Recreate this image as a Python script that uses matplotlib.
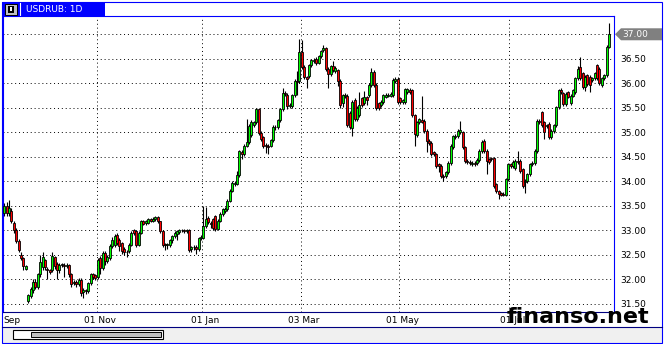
import numpy as np
import matplotlib.pyplot as plt
from matplotlib.patches import Rectangle, Polygon
from matplotlib.transforms import ScaledTranslation

# daily USDRUB candles
opens = [
    33.35, 33.50, 33.35, 33.40, 33.15, 33.00, 32.78, 32.50, 32.44, 32.22,
    31.56, 31.65, 31.78, 31.95, 31.85, 32.10, 32.25, 32.40, 32.22, 32.18,
    32.20, 32.45, 32.32, 32.18, 32.30, 32.30, 32.28, 32.30, 32.10, 31.92,
    31.95, 31.90, 31.99, 31.75, 31.78, 31.76, 31.92, 32.10, 32.08, 32.05,
    32.44, 32.24, 32.54, 32.37, 32.44, 32.68, 32.70, 32.91, 32.80, 32.74,
    32.62, 32.56, 32.57, 32.71, 33.00, 32.98, 32.71, 32.95, 33.18, 33.15,
    33.15, 33.23, 33.20, 33.24, 33.27, 33.18, 32.98, 32.72, 32.70, 32.70,
    32.80, 32.88, 32.92, 32.97, 33.00, 33.00, 32.99, 33.00, 32.62, 32.65,
    32.66, 32.62, 32.84, 32.85, 33.08, 33.26, 33.15, 33.23, 33.29, 33.03,
    33.20, 33.33, 33.40, 33.43, 33.60, 33.81, 33.95, 33.95, 34.12, 34.60,
    34.56, 34.73, 34.80, 34.94, 35.14, 35.20, 35.47, 34.99, 34.90, 34.75,
    34.72, 34.73, 34.84, 35.11, 35.11, 35.25, 35.47, 35.80, 35.77, 35.53,
    35.53, 35.76, 36.05, 36.05, 36.63, 36.34, 36.12, 36.14, 36.37, 36.45,
    36.50, 36.42, 36.55, 36.68, 36.72, 36.30, 36.18, 36.36, 36.25, 36.27,
    36.05, 35.59, 35.74, 35.75, 35.40, 35.09, 35.66, 35.28, 35.35, 35.69,
    35.59, 35.71, 35.76, 35.97, 36.24, 35.97, 35.59, 35.55, 35.62, 35.73,
    35.75, 35.75, 35.76, 36.05, 36.09, 35.69, 35.62, 35.62, 35.83, 35.86,
    35.86, 35.35, 34.95, 35.20, 35.26, 35.24, 35.03, 34.83, 34.79, 34.59,
    34.55, 34.35, 34.32, 34.11, 34.10, 34.18, 34.38, 34.69, 34.90, 34.92,
    35.00, 35.00, 34.69, 34.42, 34.40, 34.36, 34.38, 34.38, 34.44, 34.62,
    34.83, 34.62, 34.45, 34.47, 34.47, 33.94, 33.80, 33.76, 33.75, 33.73,
    34.04, 34.35, 34.32, 34.28, 34.42, 34.42, 34.25, 33.98, 34.01, 34.14,
    34.35, 34.38, 34.62, 35.24, 35.41, 35.20, 35.12, 35.17, 34.90, 35.03,
    35.14, 35.51, 35.86, 35.80, 35.58, 35.82, 35.60, 35.75, 35.82, 36.10,
    36.34, 36.20, 35.92, 36.16, 36.13, 36.06, 36.10, 36.37, 36.30, 35.96,
    36.10, 36.16, 36.75]

closes = [
    33.50, 33.35, 33.45, 33.20, 33.00, 32.78, 32.60, 32.44, 32.27, 32.27,
    31.68, 31.80, 31.95, 31.85, 32.10, 32.35, 32.45, 32.25, 32.18, 32.15,
    32.47, 32.27, 32.20, 32.30, 32.30, 32.28, 32.30, 32.10, 31.90, 31.95,
    31.90, 31.99, 31.72, 31.78, 31.76, 31.92, 32.10, 32.05, 32.03, 32.40,
    32.24, 32.54, 32.37, 32.45, 32.68, 32.81, 32.88, 32.74, 32.68, 32.57,
    32.55, 32.55, 32.71, 32.95, 32.95, 32.71, 32.95, 33.18, 33.13, 33.18,
    33.23, 33.20, 33.24, 33.27, 33.18, 32.98, 32.71, 32.69, 32.72, 32.80,
    32.88, 32.95, 32.98, 33.00, 33.00, 32.99, 33.00, 32.60, 32.65, 32.66,
    32.62, 32.84, 32.87, 33.08, 33.23, 33.16, 33.12, 33.05, 33.03, 33.20,
    33.33, 33.43, 33.43, 33.60, 33.81, 33.97, 33.97, 34.12, 34.61, 34.55,
    34.73, 34.80, 35.13, 35.21, 35.20, 35.47, 34.99, 34.87, 34.73, 34.72,
    34.70, 34.84, 35.11, 35.10, 35.25, 35.47, 35.80, 35.78, 35.53, 35.55,
    35.76, 36.05, 36.03, 36.63, 36.34, 36.12, 36.08, 36.37, 36.47, 36.48,
    36.42, 36.55, 36.65, 36.72, 36.30, 36.18, 36.35, 36.28, 36.32, 36.05,
    35.55, 35.76, 35.76, 35.14, 35.10, 35.62, 35.28, 35.50, 35.55, 35.55,
    35.73, 35.66, 35.97, 36.24, 35.97, 35.49, 35.49, 35.62, 35.76, 35.77,
    35.77, 35.79, 36.07, 36.09, 35.62, 35.62, 35.65, 35.88, 35.88, 35.83,
    35.35, 34.97, 35.20, 35.27, 35.22, 35.03, 34.83, 34.79, 34.55, 34.55,
    34.32, 34.32, 34.11, 34.08, 34.18, 34.38, 34.73, 34.92, 34.92, 35.03,
    35.05, 34.69, 34.42, 34.40, 34.37, 34.38, 34.36, 34.44, 34.62, 34.81,
    34.62, 34.42, 34.40, 34.45, 33.90, 33.80, 33.75, 33.73, 33.73, 34.04,
    34.35, 34.32, 34.40, 34.42, 34.40, 34.21, 33.90, 34.01, 34.14, 34.35,
    34.38, 34.62, 35.24, 35.21, 35.14, 35.00, 35.14, 34.90, 35.03, 35.14,
    35.51, 35.86, 35.82, 35.58, 35.79, 35.73, 35.75, 35.86, 36.10, 36.30,
    36.10, 35.92, 36.13, 35.99, 35.96, 36.10, 36.20, 36.10, 36.00, 36.10,
    36.16, 36.75, 37.00]

highs = [
    33.55, 33.58, 33.62, 33.45, 33.20, 33.05, 32.82, 32.55, 32.46, 32.30,
    31.70, 31.85, 32.00, 32.00, 32.12, 32.50, 32.55, 32.42, 32.26, 32.22,
    32.55, 32.48, 32.35, 32.33, 32.34, 32.33, 32.33, 32.32, 32.12, 31.99,
    31.98, 32.03, 32.02, 31.82, 31.80, 31.95, 32.13, 32.13, 32.11, 32.43,
    32.48, 32.58, 32.57, 32.50, 32.72, 32.86, 32.92, 32.95, 32.84, 32.77,
    32.65, 32.59, 32.75, 32.98, 33.03, 33.00, 32.98, 33.21, 33.22, 33.21,
    33.26, 33.26, 33.27, 33.30, 33.30, 33.20, 33.00, 32.75, 32.75, 32.83,
    32.91, 32.98, 33.01, 33.03, 33.03, 33.03, 33.03, 33.02, 32.68, 32.70,
    32.69, 32.87, 32.90, 33.49, 33.47, 33.30, 33.19, 33.26, 33.32, 33.24,
    33.37, 33.46, 33.47, 33.63, 33.84, 34.00, 34.01, 34.20, 34.64, 34.64,
    34.77, 35.28, 35.16, 35.25, 35.24, 35.50, 35.50, 35.02, 34.93, 34.79,
    34.76, 34.87, 35.14, 35.15, 35.28, 35.50, 35.90, 35.84, 35.80, 35.59,
    35.79, 36.08, 36.25, 36.90, 36.88, 36.37, 36.15, 36.40, 36.50, 36.52,
    36.53, 36.58, 36.68, 36.78, 36.75, 36.33, 36.38, 36.45, 36.35, 36.30,
    36.08, 35.79, 35.80, 35.78, 35.43, 35.65, 35.69, 35.53, 35.83, 35.72,
    35.85, 35.74, 36.00, 36.31, 36.27, 36.00, 35.62, 35.65, 35.79, 35.80,
    35.80, 35.82, 36.10, 36.13, 36.12, 35.72, 35.68, 35.91, 35.91, 35.90,
    35.89, 35.38, 35.23, 35.30, 35.75, 35.27, 35.06, 34.86, 34.82, 34.62,
    34.58, 34.38, 34.35, 34.14, 34.21, 34.41, 34.76, 34.95, 34.96, 35.06,
    35.24, 35.03, 34.72, 34.45, 34.43, 34.41, 34.41, 34.47, 34.65, 34.84,
    34.86, 34.65, 34.48, 34.50, 34.50, 33.97, 33.83, 33.79, 33.78, 34.07,
    34.38, 34.38, 34.43, 34.45, 34.62, 34.45, 34.28, 34.04, 34.17, 34.38,
    34.41, 34.65, 35.27, 35.28, 35.44, 35.23, 35.17, 35.20, 35.06, 35.17,
    35.54, 35.89, 35.90, 35.83, 35.82, 35.85, 35.78, 35.89, 36.13, 36.36,
    36.54, 36.23, 36.16, 36.19, 36.16, 36.13, 36.23, 36.40, 36.33, 36.13,
    36.19, 36.78, 37.23]

lows = [
    33.30, 33.30, 33.30, 33.15, 32.95, 32.75, 32.55, 32.40, 32.20, 32.18,
    31.52, 31.62, 31.72, 31.80, 31.80, 32.05, 32.20, 32.18, 32.00, 32.10,
    32.15, 32.22, 32.00, 32.12, 32.25, 32.05, 32.24, 32.05, 31.85, 31.88,
    31.85, 31.86, 31.65, 31.62, 31.70, 31.72, 31.88, 32.00, 31.98, 32.00,
    32.10, 32.20, 32.30, 32.33, 32.40, 32.64, 32.66, 32.70, 32.58, 32.52,
    32.50, 32.45, 32.54, 32.68, 32.90, 32.66, 32.68, 32.92, 33.10, 33.11,
    33.12, 33.16, 33.17, 33.20, 33.14, 32.94, 32.66, 32.60, 32.62, 32.66,
    32.75, 32.84, 32.80, 32.93, 32.96, 32.95, 32.95, 32.55, 32.55, 32.60,
    32.52, 32.58, 32.80, 32.82, 33.05, 33.12, 33.05, 33.00, 32.98, 33.00,
    33.17, 33.30, 33.36, 33.40, 33.57, 33.78, 33.91, 33.92, 34.08, 34.45,
    34.52, 34.70, 34.76, 34.90, 35.10, 35.16, 34.95, 34.82, 34.68, 34.58,
    34.56, 34.70, 34.80, 35.05, 35.07, 35.22, 35.44, 35.74, 35.48, 35.49,
    35.50, 35.73, 35.76, 36.00, 36.30, 36.08, 35.90, 36.10, 36.33, 36.41,
    36.38, 36.39, 36.52, 36.64, 36.26, 35.90, 36.14, 36.24, 36.21, 35.95,
    35.50, 35.52, 35.70, 35.10, 35.06, 34.92, 35.24, 35.24, 35.31, 35.51,
    35.55, 35.55, 35.72, 35.93, 35.93, 35.45, 35.45, 35.51, 35.58, 35.69,
    35.71, 35.71, 35.72, 36.01, 35.58, 35.58, 35.58, 35.58, 35.79, 35.79,
    35.31, 34.73, 34.91, 35.16, 35.18, 34.99, 34.59, 34.74, 34.51, 34.51,
    34.28, 34.18, 34.07, 34.01, 34.06, 34.14, 34.34, 34.65, 34.86, 34.88,
    34.96, 34.65, 34.38, 34.36, 34.33, 34.32, 34.32, 34.34, 34.40, 34.58,
    34.58, 34.14, 34.36, 34.41, 33.86, 33.76, 33.63, 33.69, 33.69, 33.69,
    34.00, 34.28, 34.28, 34.24, 34.36, 34.17, 33.86, 33.77, 33.97, 34.10,
    34.31, 34.34, 34.58, 35.17, 35.10, 34.86, 35.08, 34.86, 34.86, 34.99,
    35.10, 35.47, 35.78, 35.54, 35.54, 35.69, 35.56, 35.71, 35.78, 36.06,
    36.06, 35.88, 35.85, 35.95, 35.82, 36.02, 36.06, 36.06, 35.96, 35.92,
    36.06, 36.12, 36.71]

# first bar of each labelled month
month_bars = [39, 83, 124, 165, 211]
month_labels = ["01 Nov", "01 Jan", "03 Mar", "01 May", "01 Jul"]
price_ticks = [31.5, 32.0, 32.5, 33.0, 33.5, 34.0, 34.5, 35.0, 35.5, 36.0, 36.5, 37.0]
symbol = "USDRUB: 1D"

W, H = 664, 344
BLUE = "#0000ff"
NAVY = "#000080"
fs = 6.5

fig = plt.figure(figsize=(W / 100, H / 100), dpi=100)
fig.patch.set_facecolor("white")

# pixel-space layers under and over the chart
under = fig.add_axes([0, 0, 1, 1], zorder=0)
under.set_xlim(0, W)
under.set_ylim(H, 0)
under.axis("off")

ax = fig.add_axes([3 / W, (H - 312) / H, 611 / W, 296 / H], zorder=1)

over = fig.add_axes([0, 0, 1, 1], zorder=2)
over.set_xlim(0, W)
over.set_ylim(H, 0)
over.axis("off")

o = np.array(opens)
c = np.array(closes)
x = np.arange(len(o))
colors = np.where(c > o, "#00ff00", np.where(c < o, "#ff0000", "black"))
body = np.maximum(np.abs(c - o), 0.012)

ax.vlines(x, lows, highs, color="black", linewidth=0.8, zorder=2)
ax.bar(x, body, bottom=np.minimum(o, c), width=0.9, color=colors,
       edgecolor="black", linewidth=0.6, zorder=3)

ax.set_xlim(-0.5, 254.08)
ax.set_ylim(31.333, 37.373)

ax.set_yticks(price_ticks)
ax.set_yticklabels(["%.2f" % v if v < 37 else "" for v in price_ticks])
ax.yaxis.tick_right()
ax.set_xticks(np.array(month_bars) - 0.5)
ax.set_xticklabels(month_labels)
ax.tick_params(length=0, labelsize=fs)
ax.tick_params(axis="y", pad=4.5)
ax.tick_params(axis="x", pad=3)
shift = ScaledTranslation(0.03, 0, fig.dpi_scale_trans)
for lab in ax.get_xticklabels():
    lab.set_transform(lab.get_transform() + shift)

ax.grid(True, color="black", linestyle=(0, (1, 3)), linewidth=0.7)
ax.set_axisbelow(True)

for side in ["left", "top", "right"]:
    ax.spines[side].set_color(BLUE)
    ax.spines[side].set_linewidth(0.8)
ax.spines["bottom"].set_color(NAVY)
ax.spines["bottom"].set_linewidth(0.8)

# window chrome
under.add_patch(Rectangle((2, 327), 659.5, 15.5, facecolor="#f0f0f0", edgecolor="none"))
under.plot([1.5, 661.5], [326.5, 326.5], color=NAVY, linewidth=0.8)
under.add_patch(Rectangle((1.5, 1.5), 660, 341.5, fill=False, edgecolor=BLUE, linewidth=0.8))
under.add_patch(Rectangle((12.5, 329.5), 150, 9.5, facecolor="white", edgecolor="black", linewidth=0.8))
under.add_patch(Rectangle((30.5, 331.5), 130, 5.5, facecolor="#c0c0c0", edgecolor="black", linewidth=0.7))

under.add_patch(Rectangle((2, 2), 103, 14, facecolor=BLUE, edgecolor="none"))
under.add_patch(Rectangle((4.5, 3.5), 12, 11, facecolor="#c0c0c0", edgecolor="black", linewidth=0.7))
under.add_patch(Rectangle((7.5, 5.5), 6, 7, facecolor="black", edgecolor="none"))
under.add_patch(Rectangle((9.5, 7), 2, 4, facecolor="white", edgecolor="none"))
under.plot([19.5, 19.5], [3, 15], color="white", linewidth=0.8)
under.text(26, 9.5, symbol, color="white", fontsize=fs, va="center", ha="left")

over.text(3.5, 320.5, "Sep", fontsize=fs, va="center", ha="left")

# last price tag
yp = H - ax.transData.transform((0, closes[-1]))[1]
over.add_patch(Polygon([(615, yp), (621, yp - 6), (662, yp - 6), (662, yp + 6), (621, yp + 6)],
                       closed=True, facecolor="#808080", edgecolor="none"))
over.text(622, yp + 0.5, "%.2f" % closes[-1], color="white", fontsize=fs, va="center", ha="left")

# site watermark sits over the bottom right corner, as in the source
over.text(507, 323, "finanso.net", fontsize=16, fontweight="bold", color="black",
          va="baseline", ha="left")

fig.savefig("out.png", dpi=100)
